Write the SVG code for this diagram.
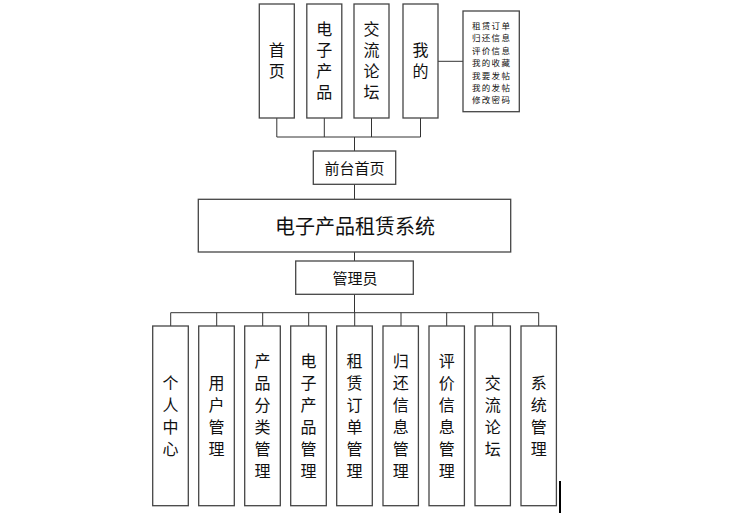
<svg xmlns="http://www.w3.org/2000/svg" width="736" height="518" viewBox="0 0 736 518">
<style>
.b{fill:#fff;stroke:#454545;stroke-width:1.3}
.t{font-family:"Noto Sans CJK SC","Noto Sans",sans-serif;fill:#111;text-anchor:middle;dominant-baseline:central}
.v{font-family:"Liberation Sans","Noto Sans CJK SC",sans-serif;font-size:16px;fill:#111;text-anchor:middle;dominant-baseline:central}
.s{font-size:8.5px;letter-spacing:1.3px}
.m{font-size:15px}
.l{font-size:20px}
.c{stroke:#333;stroke-width:1;fill:none}
</style>
<rect width="736" height="518" fill="#fff"/>
<g id="connectors">
<path class="c" d="M276.8 118V137M324.3 118V137M371.5 118V137M420.5 118V137M276.8 137H420.5M354.5 137V151M354.5 184V199M354.5 252V261M354.5 294V312.7M438 61.3H463M170.7 312.7H538.7M170.7 312.7V326M216.7 312.7V326M262.7 312.7V326M308.7 312.7V326M354.7 312.7V326M401 312.7V326M446.7 312.7V326M492.7 312.7V326M538.7 312.7V326"/>
</g>
<g id="n-home"><rect class="b" x="259.3" y="4" width="35" height="114"/><text class="v" x="276.8" y="50.5">首</text><text class="v" x="276.8" y="71.5">页</text></g>
<g id="n-products"><rect class="b" x="306.8" y="4" width="35" height="114"/><text class="v" x="324.3" y="29.5">电</text><text class="v" x="324.3" y="50.5">子</text><text class="v" x="324.3" y="71.5">产</text><text class="v" x="324.3" y="92.5">品</text></g>
<g id="n-forum"><rect class="b" x="354" y="4" width="35" height="114"/><text class="v" x="371.5" y="29.5">交</text><text class="v" x="371.5" y="50.5">流</text><text class="v" x="371.5" y="71.5">论</text><text class="v" x="371.5" y="92.5">坛</text></g>
<g id="n-mine"><rect class="b" x="403" y="4" width="35" height="114"/><text class="v" x="420.5" y="50.5">我</text><text class="v" x="420.5" y="71.5">的</text></g>
<g id="n-mine-list"><rect class="b" x="463" y="11" width="56.3" height="100.7"/><text class="t s" x="491.6" y="25">租赁订单</text><text class="t s" x="491.6" y="37.4">归还信息</text><text class="t s" x="491.6" y="49.8">评价信息</text><text class="t s" x="491.6" y="62.2">我的收藏</text><text class="t s" x="491.6" y="74.6">我要发帖</text><text class="t s" x="491.6" y="87">我的发帖</text><text class="t s" x="491.6" y="99.4">修改密码</text></g>
<g id="n-front"><rect class="b" x="313.3" y="151" width="82.4" height="33.3"/><text class="t m" x="354.5" y="167.5">前台首页</text></g>
<g id="n-system"><rect class="b" x="198.3" y="199.3" width="312.4" height="52.7"/><text class="t l" x="355" y="225.5">电子产品租赁系统</text></g>
<g id="n-admin"><rect class="b" x="295.7" y="261" width="117.6" height="33.3"/><text class="t m" x="355" y="277.7">管理员</text></g>
<g id="n-personal"><rect class="b" x="152.7" y="326" width="35.6" height="179.7"/><text class="v" x="170.5" y="383">个</text><text class="v" x="170.5" y="405">人</text><text class="v" x="170.5" y="427">中</text><text class="v" x="170.5" y="449">心</text></g>
<g id="n-user"><rect class="b" x="198.7" y="326" width="35.6" height="179.7"/><text class="v" x="216.5" y="383">用</text><text class="v" x="216.5" y="405">户</text><text class="v" x="216.5" y="427">管</text><text class="v" x="216.5" y="449">理</text></g>
<g id="n-category"><rect class="b" x="244.7" y="326" width="35.6" height="179.7"/><text class="v" x="262.5" y="361">产</text><text class="v" x="262.5" y="383">品</text><text class="v" x="262.5" y="405">分</text><text class="v" x="262.5" y="427">类</text><text class="v" x="262.5" y="449">管</text><text class="v" x="262.5" y="471">理</text></g>
<g id="n-product-mgmt"><rect class="b" x="290.7" y="326" width="35.6" height="179.7"/><text class="v" x="308.5" y="361">电</text><text class="v" x="308.5" y="383">子</text><text class="v" x="308.5" y="405">产</text><text class="v" x="308.5" y="427">品</text><text class="v" x="308.5" y="449">管</text><text class="v" x="308.5" y="471">理</text></g>
<g id="n-order"><rect class="b" x="336.7" y="326" width="35.6" height="179.7"/><text class="v" x="354.5" y="361">租</text><text class="v" x="354.5" y="383">赁</text><text class="v" x="354.5" y="405">订</text><text class="v" x="354.5" y="427">单</text><text class="v" x="354.5" y="449">管</text><text class="v" x="354.5" y="471">理</text></g>
<g id="n-return"><rect class="b" x="383" y="326" width="35.4" height="179.7"/><text class="v" x="400.7" y="361">归</text><text class="v" x="400.7" y="383">还</text><text class="v" x="400.7" y="405">信</text><text class="v" x="400.7" y="427">息</text><text class="v" x="400.7" y="449">管</text><text class="v" x="400.7" y="471">理</text></g>
<g id="n-review"><rect class="b" x="429" y="326" width="35.4" height="179.7"/><text class="v" x="446.7" y="361">评</text><text class="v" x="446.7" y="383">价</text><text class="v" x="446.7" y="405">信</text><text class="v" x="446.7" y="427">息</text><text class="v" x="446.7" y="449">管</text><text class="v" x="446.7" y="471">理</text></g>
<g id="n-forum-mgmt"><rect class="b" x="475" y="326" width="35.4" height="179.7"/><text class="v" x="492.7" y="383">交</text><text class="v" x="492.7" y="405">流</text><text class="v" x="492.7" y="427">论</text><text class="v" x="492.7" y="449">坛</text></g>
<g id="n-sys-mgmt"><rect class="b" x="521" y="326" width="35.4" height="179.7"/><text class="v" x="538.7" y="383">系</text><text class="v" x="538.7" y="405">统</text><text class="v" x="538.7" y="427">管</text><text class="v" x="538.7" y="449">理</text></g>
<rect x="559" y="481" width="2" height="32" fill="#000"/>
</svg>
